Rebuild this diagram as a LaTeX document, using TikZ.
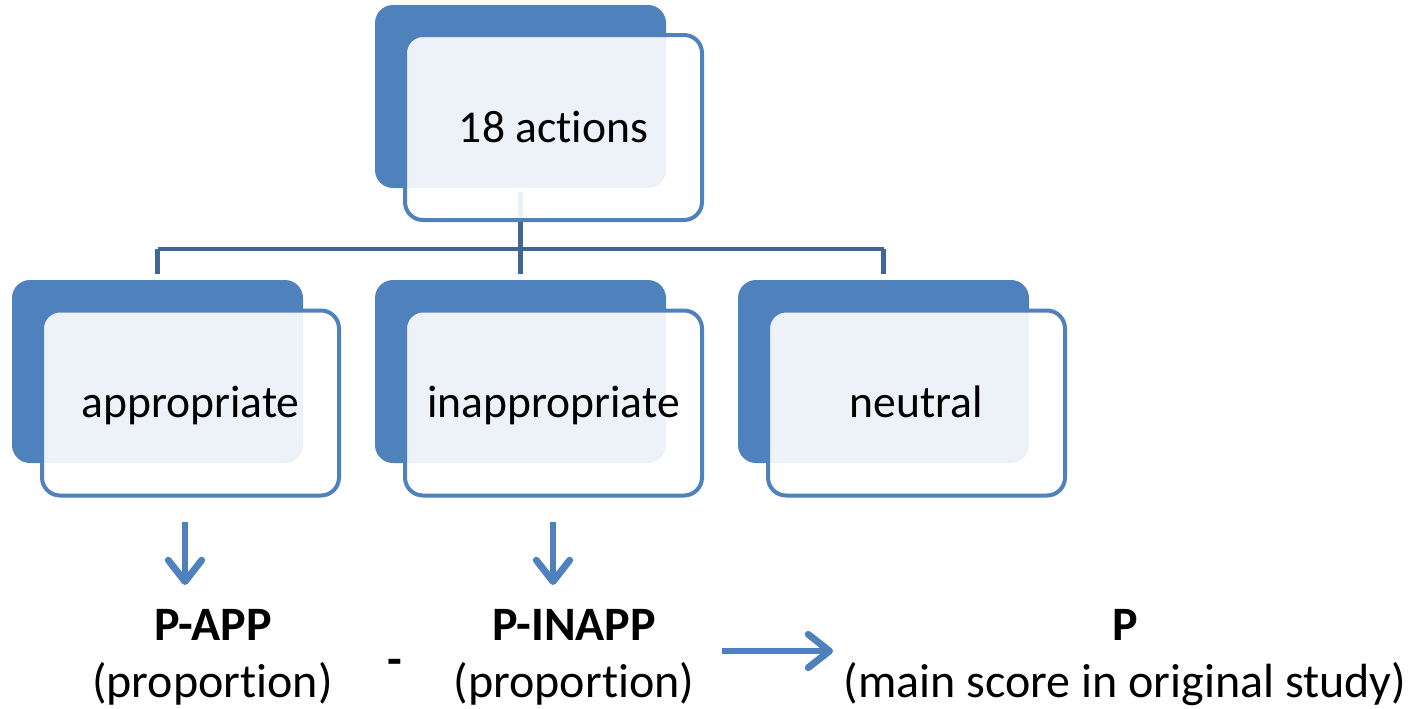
\documentclass[tikz,border=0pt]{standalone}
\usepackage{fontspec}
\setmainfont{Carlito}[Ligatures={NoCommon,NoRequired,NoContextual}]
\usetikzlibrary{arrows.meta}
\definecolor{accent}{RGB}{79,129,189}
\definecolor{connc}{RGB}{64,102,149}
\tikzset{
  backbox/.style={fill=accent, draw=none, rounded corners=13.5pt, minimum width=218.25pt, minimum height=137.25pt, inner sep=0pt},
  frontbox/.style={draw=accent, line width=3pt, fill=white, fill opacity=0.9, rounded corners=13.5pt, minimum width=222.75pt, minimum height=138.75pt, inner sep=0pt},
  conn/.style={draw=connc, line width=3.2pt},
  lbl/.style={anchor=base, inner sep=0pt, font=\fontsize{34.2}{43}\selectfont},
  blbl/.style={anchor=base, inner sep=0pt, font=\fontsize{36}{43}\selectfont},
  arr/.style={draw=accent, line width=5.2pt, -{Straight Barb[length=16pt,width=25pt,round]}}
}
\begin{document}
\begin{tikzpicture}[x=0.75pt,y=-0.75pt]
\useasboundingbox (0,0) rectangle (1421,708);
% back boxes
\node[backbox] (tb) at (520.5,96.5) {};
\node[backbox] (ab) at (157.5,371.5) {};
\node[backbox] (ib) at (520.5,371.5) {};
\node[backbox] (nb) at (883.5,371.5) {};
% connectors
\coordinate (hub) at (520.5,249);
\draw[conn] ([yshift=-3pt]tb.south) -- (hub);
\draw[conn, shorten >=4.5pt] (hub) -- (ib.north);
\draw[conn] (ab.north |- hub) -- (nb.north |- hub);
\draw[conn, shorten >=4.5pt] (ab.north |- hub) -- (ab.north);
\draw[conn, shorten >=4.5pt] (nb.north |- hub) -- (nb.north);
% front boxes
\node[frontbox] (tf) at (553.5,127.5) {};
\node[frontbox] (af) at (190.5,403) {};
\node[frontbox] (if) at (553.5,403) {};
\node[frontbox] (nf) at (916.5,403) {};
% box texts
\node[lbl] (t18) at (553.5,142) {18 actions};
\node[lbl] (tapp) at (190.5,417) {appropriate};
\node[lbl] (tinapp) at (553.5,417) {inappropriate};
\node[lbl] (tneu) at (916.5,417) {neutral};
% bottom texts
\node[blbl] (papp) at (213,640) {\bfseries P-APP};
\node[blbl] (papp2) at (212.5,697) {(proportion)};
\node[blbl] (pinapp) at (574,640) {\bfseries P-INAPP};
\node[blbl] (pinapp2) at (574,697) {(proportion)};
\node[blbl] (p) at (1125,640) {\bfseries P};
\node[blbl] (p2) at (1125,697) {(main score in original study)};
\node[blbl] (minus) at (395,675) {\bfseries -};
% arrows
\coordinate (a1s) at (185,522);
\coordinate (a1e) at (185,585);
\coordinate (a2s) at (553,522);
\coordinate (a2e) at (553,585);
\coordinate (a3s) at (722,651);
\coordinate (a3e) at (833,651);
\draw[arr] (a1s) -- (a1e);
\draw[arr] (a2s) -- (a2e);
\draw[arr] (a3s) -- (a3e);
\end{tikzpicture}
\end{document}
